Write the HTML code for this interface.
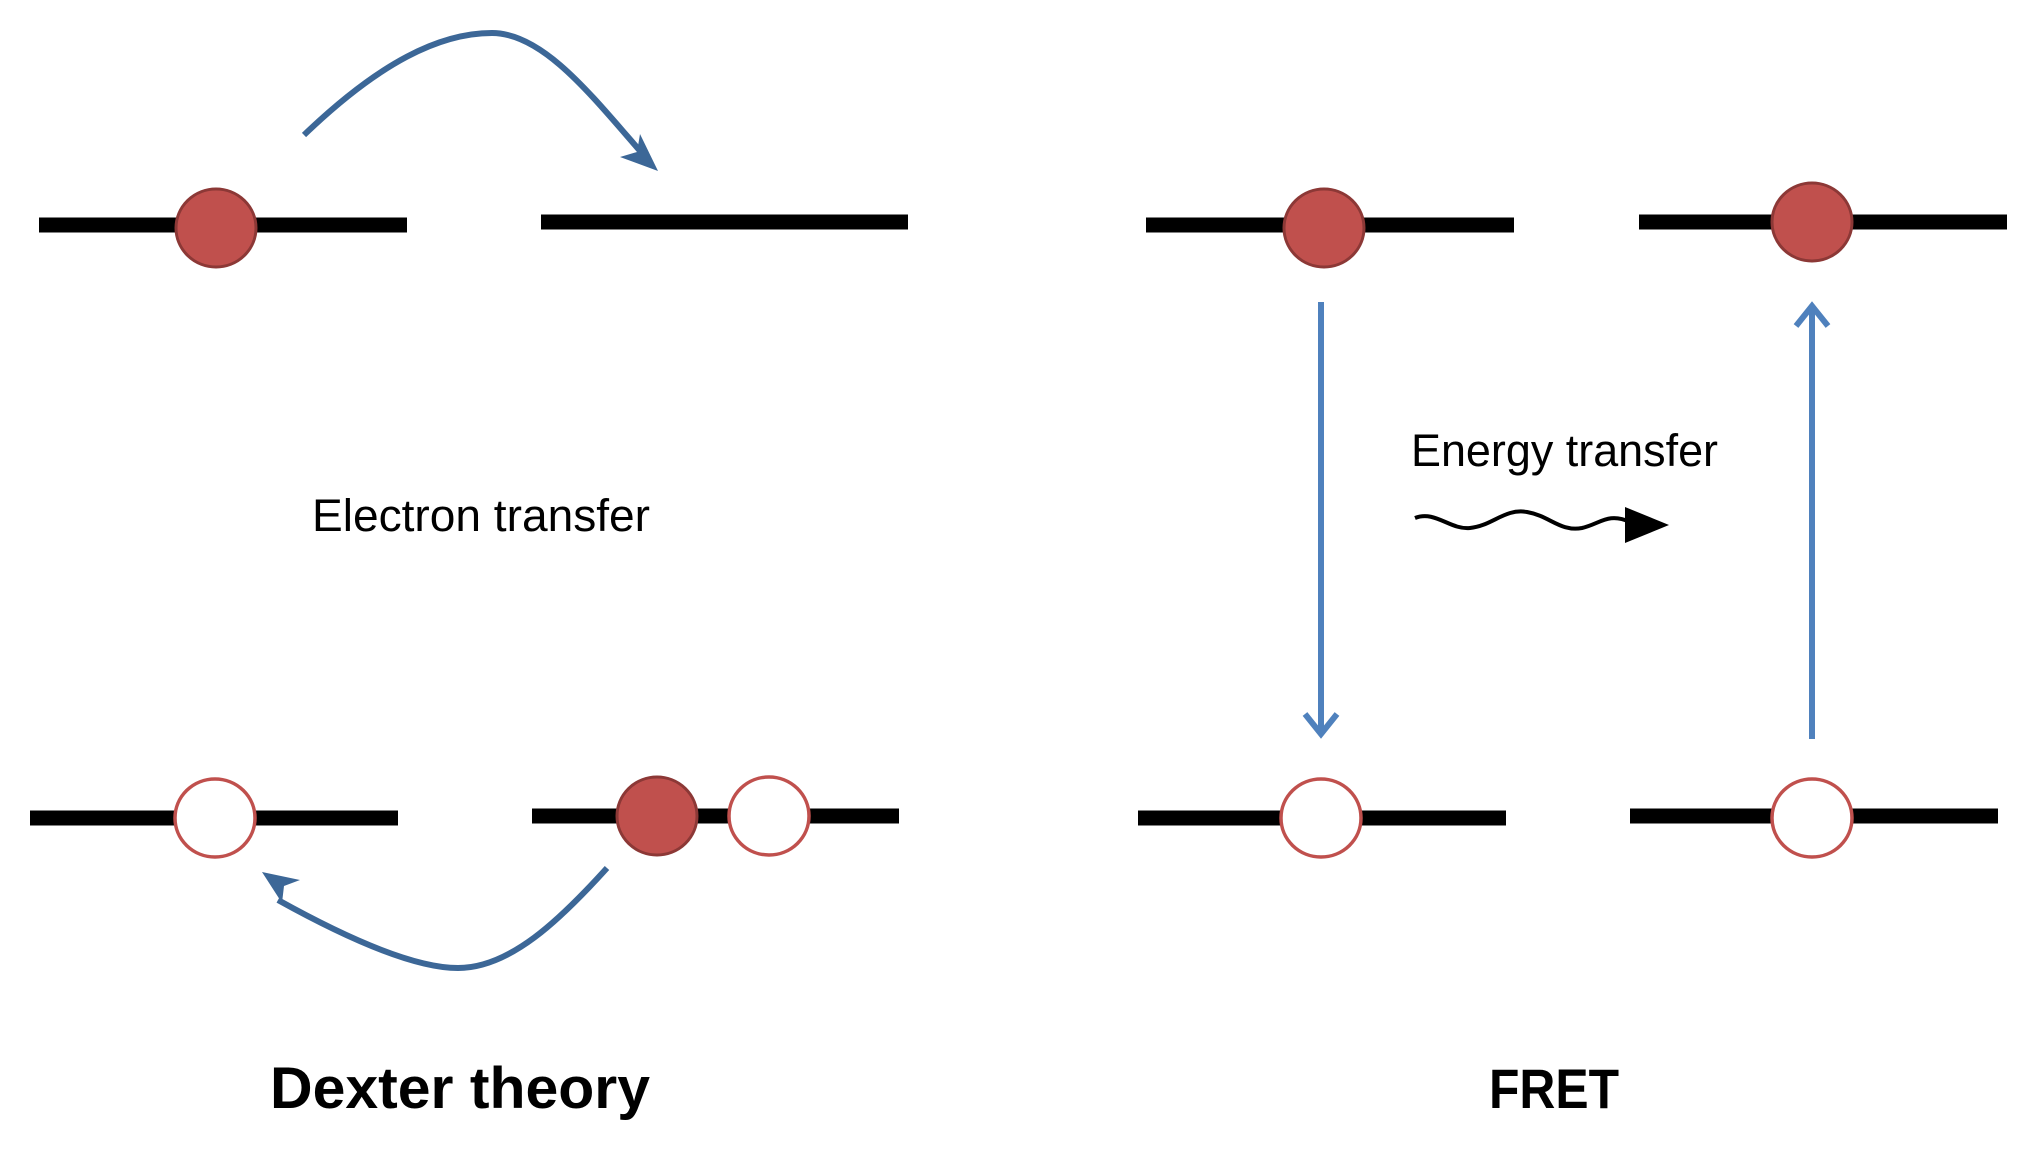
<!DOCTYPE html>
<html><head><meta charset="utf-8"><style>html,body{margin:0;padding:0;background:#fff}</style></head>
<body>
<svg width="2029" height="1145" viewBox="0 0 2029 1145" xmlns="http://www.w3.org/2000/svg">
<g stroke="#000" stroke-width="15">
<line x1="39" y1="225" x2="407" y2="225"/>
<line x1="541" y1="222" x2="908" y2="222"/>
<line x1="30" y1="818" x2="398" y2="818"/>
<line x1="532" y1="816" x2="899" y2="816"/>
<line x1="1146" y1="225" x2="1514" y2="225"/>
<line x1="1639" y1="222" x2="2007" y2="222"/>
<line x1="1138" y1="818" x2="1506" y2="818"/>
<line x1="1630" y1="816" x2="1998" y2="816"/>
</g>
<g fill="#c0504d" stroke="#8c3836" stroke-width="3">
<ellipse cx="216" cy="228" rx="40" ry="39"/>
<ellipse cx="657" cy="816" rx="40" ry="39"/>
<ellipse cx="1324" cy="228" rx="40" ry="39"/>
<ellipse cx="1812" cy="222" rx="40" ry="39"/>
</g>
<g fill="#fff" stroke="#c0504d" stroke-width="3.5">
<ellipse cx="215" cy="818" rx="40" ry="39"/>
<ellipse cx="769" cy="816" rx="40" ry="39"/>
<ellipse cx="1321" cy="818" rx="40" ry="39"/>
<ellipse cx="1812" cy="818" rx="40" ry="39"/>
</g>
<g fill="none" stroke="#3c6797" stroke-width="6">
<path d="M304 135 C380 62 440 33 492 33 C545 33 595 100 648 160"/>
<path d="M607 868 C560 920 510 968 458 968 C415 968 350 940 278 900"/>
</g>
<g fill="#3c6797">
<path d="M658 171 L620 157 L637 152 L640 134 Z"/>
<path d="M262 872 L300 880 L284 886 L282 903 Z"/>
</g>
<g stroke="#4f81bd" stroke-width="6" fill="none">
<line x1="1321" y1="302" x2="1321" y2="734"/>
<path d="M1305 714 L1321 734 L1337 714"/>
<line x1="1812" y1="739" x2="1812" y2="306"/>
<path d="M1796 326 L1812 306 L1828 326"/>
</g>
<path d="M1415 518 C1435 510 1450 530 1470 528 C1492 526 1505 508 1527 512 C1550 516 1560 532 1582 528 C1600 524 1608 512 1630 522" fill="none" stroke="#000" stroke-width="4"/>
<path d="M1625 507 L1669 525 L1625 543 Z" fill="#000"/>
<g font-family="Liberation Sans, sans-serif" fill="#000">
<text x="312" y="531" font-size="45" textLength="338" lengthAdjust="spacingAndGlyphs">Electron transfer</text>
<text x="1411" y="466" font-size="45" textLength="307" lengthAdjust="spacingAndGlyphs">Energy transfer</text>
<text x="270" y="1108" font-size="58" font-weight="bold" textLength="380" lengthAdjust="spacingAndGlyphs">Dexter theory</text>
<text x="1489" y="1108" font-size="56" font-weight="bold" textLength="130" lengthAdjust="spacingAndGlyphs">FRET</text>
</g>
</svg>
</body></html>
